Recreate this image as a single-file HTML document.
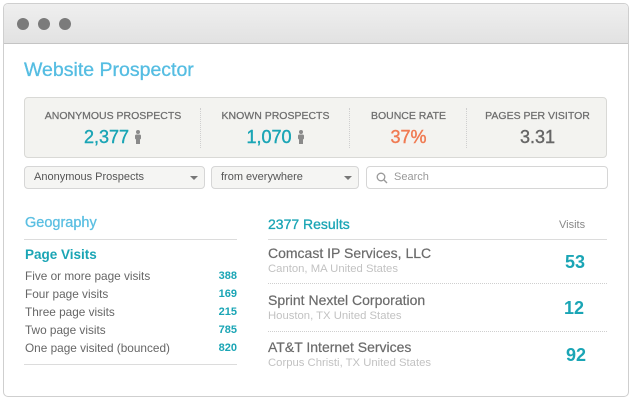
<!DOCTYPE html>
<html><head><meta charset="utf-8">
<style>
*{margin:0;padding:0;box-sizing:border-box}
html,body{width:632px;height:400px;background:#fff;overflow:hidden;font-family:"Liberation Sans",Arial,sans-serif}
.win{position:absolute;left:3px;top:3px;width:626px;height:394px;border:1px solid #cfcfcf;border-radius:5px;background:#fff;overflow:hidden}
.bar{position:absolute;left:0;top:0;width:100%;height:40px;background:linear-gradient(#efefef,#e2e2e2);border-bottom:1px solid #c4c4c4}
.dot{position:absolute;top:14px;width:12px;height:12px;border-radius:50%;background:#7b7b7b}
.a{position:absolute;white-space:nowrap}
.title{left:24px;top:59px;font-size:19.5px;color:#55bde2;-webkit-text-stroke:0.3px #55bde2;line-height:22px}
.stats{position:absolute;left:24px;top:97px;width:583px;height:61px;background:#f3f3f0;border:1px solid #d9d9d6;border-radius:4px}
.div{position:absolute;top:10px;height:40px;border-left:1px dotted #cfcfcf}
.lbl{position:absolute;top:12px;font-size:10.5px;color:#6e6e6e;text-align:center;-webkit-text-stroke:0.25px #6e6e6e;line-height:13px}
.val{position:absolute;top:28px;font-size:18px;text-align:center;line-height:22px;-webkit-text-stroke:0.4px currentColor}
.dd{position:absolute;top:166px;height:23px;border:1px solid #d6d6d6;border-radius:4px;background:#f5f5f3;font-size:11px;color:#555;line-height:21px;padding-left:9px}
.arr{position:absolute;top:9px;width:0;height:0;border-left:4px solid transparent;border-right:4px solid transparent;border-top:4px solid #777}
.h14{font-size:14px;line-height:17px}
.row{font-size:11.8px;color:#666;line-height:13px}
.num{font-size:11px;color:#1aa5b5;font-weight:bold;line-height:13px;text-align:right;width:60px}
.co{font-size:14px;color:#6b6b6b;line-height:17px;-webkit-text-stroke:0.2px #6b6b6b}
.loc{font-size:11.3px;color:#c2c2c2;line-height:13px}
.big{font-size:18px;color:#1aa5b5;font-weight:bold;line-height:22px;text-align:center;width:40px}
.hl{position:absolute;height:0;border-top:1px solid #dcdcdc}
.dl{position:absolute;height:0;border-top:1px dotted #cfcfcf}
</style></head><body>
<div class="win">
 <div class="bar">
  <div class="dot" style="left:13px"></div>
  <div class="dot" style="left:34px"></div>
  <div class="dot" style="left:55px"></div>
 </div>
</div>

<div class="a title">Website Prospector</div>

<div class="stats">
 <div class="div" style="left:175px"></div>
 <div class="div" style="left:324px"></div>
 <div class="div" style="left:441px"></div>
 <div class="lbl" style="left:0;width:176px">ANONYMOUS PROSPECTS</div>
 <div class="lbl" style="left:176px;width:149px">KNOWN PROSPECTS</div>
 <div class="lbl" style="left:325px;width:117px">BOUNCE RATE</div>
 <div class="lbl" style="left:442px;width:141px">PAGES PER VISITOR</div>
 <div class="val" style="left:0;width:176px;color:#1aa5b5">2,377 <svg width="8" height="14" viewBox="0 0 8 14" style="vertical-align:-1px"><circle cx="4" cy="2" r="2" fill="#8a8a8a"/><rect x="1" y="4.5" width="6" height="5" rx="1.5" fill="#8a8a8a"/><rect x="2" y="8" width="4" height="6" fill="#8a8a8a"/></svg></div>
 <div class="val" style="left:176px;width:149px;color:#1aa5b5">1,070 <svg width="8" height="14" viewBox="0 0 8 14" style="vertical-align:-1px"><circle cx="4" cy="2" r="2" fill="#8a8a8a"/><rect x="1" y="4.5" width="6" height="5" rx="1.5" fill="#8a8a8a"/><rect x="2" y="8" width="4" height="6" fill="#8a8a8a"/></svg></div>
 <div class="val" style="left:325px;width:117px;color:#f07a52">37%</div>
 <div class="val" style="left:442px;width:141px;color:#666">3.31</div>
</div>

<div class="dd" style="left:24px;width:181px">Anonymous Prospects<div class="arr" style="left:165px"></div></div>
<div class="dd" style="left:211px;width:148px">from everywhere<div class="arr" style="left:132px"></div></div>
<div class="dd" style="left:366px;width:242px;background:#fff;color:#999;padding-left:27px">
 <svg width="12" height="12" viewBox="0 0 12 12" style="position:absolute;left:9px;top:5px"><circle cx="5" cy="5" r="3.8" fill="none" stroke="#999" stroke-width="1.3"/><line x1="7.8" y1="7.8" x2="11" y2="11" stroke="#999" stroke-width="1.4"/></svg>Search</div>

<div class="a h14" style="left:25px;top:215px;font-size:14.5px;color:#5bbfe2;-webkit-text-stroke:0.3px #5bbfe2">Geography</div>
<div class="hl" style="left:24px;top:239px;width:213px"></div>
<div class="a h14" style="left:25px;top:246px;font-size:13.5px;color:#1aa5b5;font-weight:bold">Page Visits</div>
<div class="a row" style="left:25px;top:270px">Five or more page visits</div>
<div class="a row" style="left:25px;top:288px">Four page visits</div>
<div class="a row" style="left:25px;top:306px">Three page visits</div>
<div class="a row" style="left:25px;top:324px">Two page visits</div>
<div class="a row" style="left:25px;top:342px">One page visited (bounced)</div>
<div class="a num" style="left:177px;top:270px">388</div>
<div class="a num" style="left:177px;top:288px">169</div>
<div class="a num" style="left:177px;top:306px">215</div>
<div class="a num" style="left:177px;top:324px">785</div>
<div class="a num" style="left:177px;top:342px">820</div>
<div class="hl" style="left:24px;top:364px;width:213px"></div>

<div class="a h14" style="left:268px;top:216px;color:#1aa5b5;-webkit-text-stroke:0.3px #1aa5b5">2377 Results</div>
<div class="a" style="left:559px;top:219px;font-size:11px;color:#888">Visits</div>
<div class="hl" style="left:268px;top:239px;width:339px"></div>

<div class="a co" style="left:268px;top:245px">Comcast IP Services, LLC</div>
<div class="a loc" style="left:268px;top:263px">Canton, MA United States</div>
<div class="a big" style="left:555px;top:251px">53</div>
<div class="dl" style="left:268px;top:283px;width:339px"></div>

<div class="a co" style="left:268px;top:292px">Sprint Nextel Corporation</div>
<div class="a loc" style="left:268px;top:310px">Houston, TX United States</div>
<div class="a big" style="left:554px;top:297px">12</div>
<div class="dl" style="left:268px;top:331px;width:339px"></div>

<div class="a co" style="left:268px;top:339px">AT&amp;T Internet Services</div>
<div class="a loc" style="left:268px;top:357px">Corpus Christi, TX United States</div>
<div class="a big" style="left:556px;top:344px">92</div>
</body></html>
